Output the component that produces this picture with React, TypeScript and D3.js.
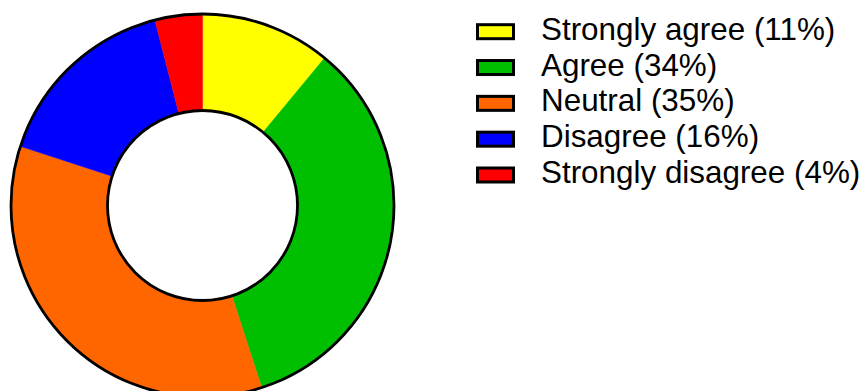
import React from "react";
import * as d3 from "d3";

const categories = ["Strongly agree", "Agree", "Neutral", "Disagree", "Strongly disagree"];
const percents = [11, 34, 35, 16, 4];
const colors = ["#ffff00", "#00bf00", "#ff6600", "#0000ff", "#ff0000"];

const W = 866;
const H = 391;
const cx = 202.5;
const cy = 205.5;
const outerR = 191.5;
const innerR = 95;

export default function App() {
  const pie = d3.pie<number>().sort(null).value((d) => d);
  const arcs = pie(percents);
  const arc = d3.arc<d3.PieArcDatum<number>>().innerRadius(innerR).outerRadius(outerR);

  const legendY = d3.scalePoint<string>().domain(categories).range([31.7, 175]);

  return (
    <svg
      width={W}
      height={H}
      style={{ position: "absolute", left: 0, top: 0, background: "#fff" }}
      fontFamily="'Liberation Sans', Arial, sans-serif"
    >
      <g transform={`translate(${cx},${cy})`}>
        {arcs.map((a, i) => (
          <path key={i} d={arc(a) || ""} fill={colors[i]} stroke={colors[i]} strokeWidth={0.5} />
        ))}
        <circle r={outerR} fill="none" stroke="#000" strokeWidth={2.8} />
        <circle r={innerR} fill="none" stroke="#000" strokeWidth={2.8} />
      </g>
      <g>
        {categories.map((c, i) => {
          const y = legendY(c)!;
          return (
            <g key={c}>
              <rect x={477.5} y={y - 7} width={36} height={14} fill={colors[i]} stroke="#000" strokeWidth={3} />
              <text x={541} y={y + 8} fontSize={31.4} fill="#000">
                {`${c} (${percents[i]}%)`}
              </text>
            </g>
          );
        })}
      </g>
    </svg>
  );
}
